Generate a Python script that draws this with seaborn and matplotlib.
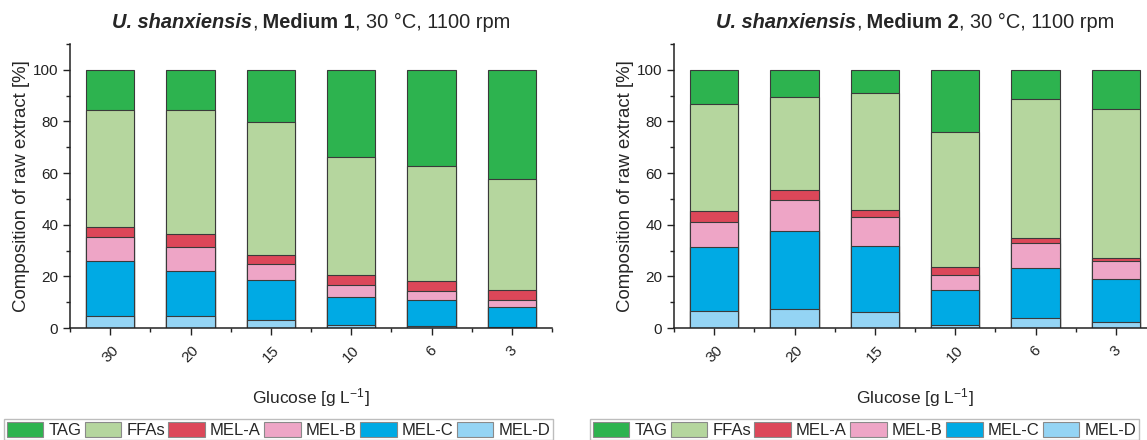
import numpy as np
import pandas as pd
import matplotlib
matplotlib.use("Agg")
import matplotlib.pyplot as plt
from matplotlib.patches import Patch
from matplotlib.ticker import FixedLocator, MultipleLocator
import seaborn as sns

# %% data (percent of raw extract)
glucose = ["30", "20", "15", "10", "6", "3"]
components = ["TAG", "FFAs", "MEL-A", "MEL-B", "MEL-C", "MEL-D"]
colors = ["#2db34f", "#b5d69e", "#dc4759", "#eea5c6", "#00aae4", "#94d4f4"]

# medium 1
m1_tag = [15.7, 15.5, 20.2, 33.9, 37.4, 42.3]
m1_ffa = [45.1, 47.9, 51.7, 45.6, 44.3, 43.0]
m1_mela = [3.9, 5.3, 3.4, 3.7, 3.9, 3.7]
m1_melb = [9.5, 9.4, 6.0, 4.8, 3.7, 2.8]
m1_melc = [21.0, 17.1, 15.5, 10.7, 9.8, 7.8]
m1_meld = [4.8, 4.8, 3.2, 1.3, 0.9, 0.4]

# medium 2
m2_tag = [13.1, 10.4, 9.0, 24.0, 11.2, 15.3]
m2_ffa = [41.5, 36.2, 45.3, 52.5, 54.1, 57.4]
m2_mela = [4.2, 3.7, 2.9, 2.9, 1.6, 1.3]
m2_melb = [9.8, 12.1, 11.1, 5.7, 9.9, 7.1]
m2_melc = [24.7, 30.1, 25.4, 13.6, 19.5, 16.5]
m2_meld = [6.7, 7.5, 6.3, 1.3, 3.7, 2.4]

sns.set_style("ticks")
plt.rcParams["font.family"] = ["Liberation Sans", "DejaVu Sans"]
plt.rcParams["mathtext.fontset"] = "custom"
plt.rcParams["mathtext.rm"] = "Liberation Sans"
plt.rcParams["mathtext.it"] = "Liberation Sans:italic"
plt.rcParams["mathtext.bf"] = "Liberation Sans:bold"

W, H = 1147, 440
fig = plt.figure(figsize=(W / 100, H / 100), dpi=100)


def stacked(ax, layers):
    df = pd.DataFrame(layers, index=components[::-1]).T  # columns bottom->top
    df.index = glucose
    cum = df.cumsum(axis=1)
    # draw the tallest cumulative first so lower ones sit on top
    for comp, col in zip(components, colors):
        sns.barplot(x=glucose, y=cum[comp].values, order=glucose, color=col,
                    saturation=1, width=0.6, edgecolor="#3a3a3a",
                    linewidth=0.8, ax=ax)


def style_axes(ax):
    ax.set_xlim(-0.5, 5.5)
    ax.set_ylim(0, 110)
    ax.yaxis.set_major_locator(FixedLocator([0, 20, 40, 60, 80, 100]))
    ax.yaxis.set_minor_locator(MultipleLocator(10))
    ax.xaxis.set_minor_locator(FixedLocator(np.arange(-0.5, 6, 1)))
    ax.tick_params(which="major", direction="out", length=5, width=1,
                   labelsize=11, colors="#222222")
    ax.tick_params(axis="x", which="major", pad=6)
    ax.tick_params(which="minor", direction="out", length=3, width=1,
                   colors="#222222")
    for lab in ax.get_xticklabels():
        lab.set_rotation(45)
        lab.set_ha("center")
    sns.despine(ax=ax)
    for s in ["left", "bottom"]:
        ax.spines[s].set_linewidth(1.1)
        ax.spines[s].set_color("#222222")
    ax.set_ylabel("Composition of raw extract [%]", fontsize=13.4, labelpad=2)
    ax.set_xlabel("Glucose [g L$^{-1}$]", fontsize=12.5, labelpad=15)


def title_parts(ax, medium):
    parts = [("U. shanxiensis", "bold", "italic"),
             (",", "normal", "normal"),
             (" Medium " + medium, "bold", "normal"),
             (", 30 °C, 1100 rpm", "normal", "normal")]
    texts = [fig.text(0, 0, s, fontsize=14.4, fontweight=w, fontstyle=st,
                      va="baseline", ha="left") for s, w, st in parts]
    renderer = fig.canvas.get_renderer()
    widths = [t.get_window_extent(renderer).width for t in texts]
    box = ax.get_position()
    x = (box.x0 + box.x1) / 2 * W - sum(widths) / 2
    for t, w in zip(texts, widths):
        t.set_position((x / W, 1 - 28 / H))
        x += w


axw = 482 / W
ax1 = fig.add_axes([70 / W, 112 / H, axw, 284 / H])
ax2 = fig.add_axes([674 / W, 112 / H, axw, 284 / H])

stacked(ax1, [m1_meld, m1_melc, m1_melb, m1_mela, m1_ffa, m1_tag])
stacked(ax2, [m2_meld, m2_melc, m2_melb, m2_mela, m2_ffa, m2_tag])

for ax, med in [(ax1, "1"), (ax2, "2")]:
    style_axes(ax)
    title_parts(ax, med)

handles = [Patch(facecolor=c, edgecolor="#8a8a8a", linewidth=0.8, label=l)
           for c, l in zip(colors, components)]
for x0 in [4, 590]:
    leg = fig.legend(handles=handles, loc="upper left",
                     bbox_to_anchor=(x0 / W, 1 - 419 / H), ncol=6,
                     fontsize=12, frameon=True, fancybox=False,
                     edgecolor="#bdbdbd", framealpha=1, borderpad=0.15,
                     handlelength=2.2, handleheight=1.05, handletextpad=0.3,
                     columnspacing=0.2, borderaxespad=0)
    leg.get_frame().set_linewidth(1.0)

fig.savefig("out.png", dpi=100)
